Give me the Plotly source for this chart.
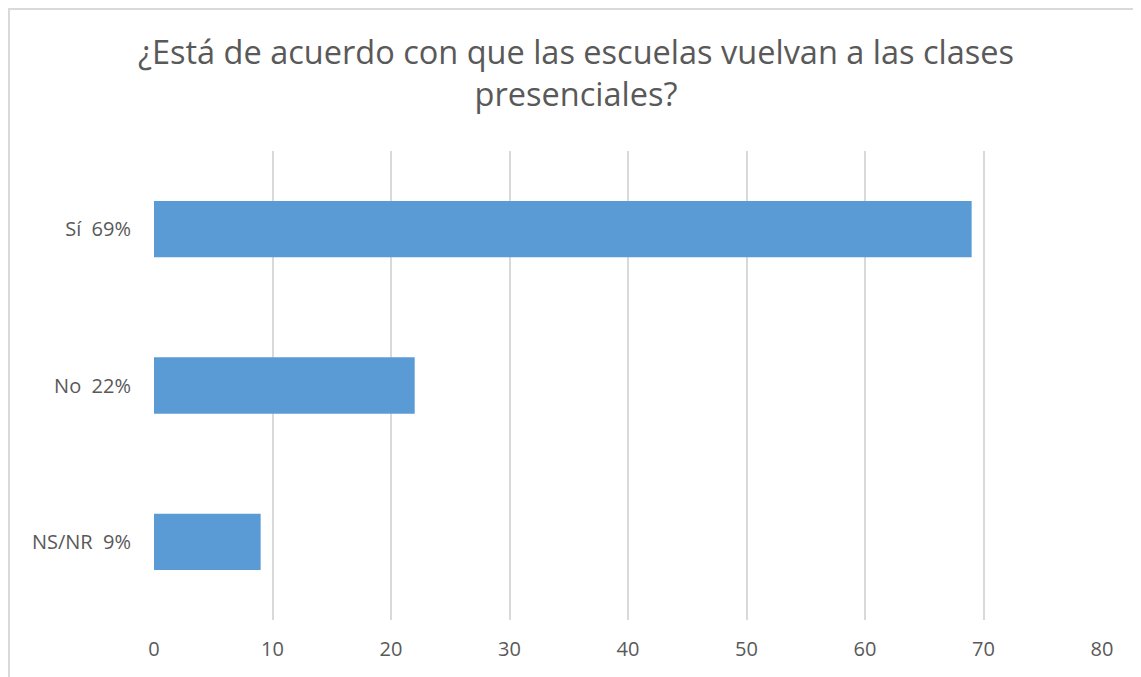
import plotly.graph_objects as go

categories = ["Sí  69%", "No  22%", "NS/NR  9%"]
values = [69, 22, 9]
x_ticks = [0, 10, 20, 30, 40, 50, 60, 70, 80]

# page body adds an 8px offset; compensate in margins
OFF = 8
W, H = 1141, 677
L, R, T, B = 154 - OFF, 39 + OFF, 151 - OFF, 57 + OFF
pw, ph = W - L - R, H - T - B

fig = go.Figure(go.Bar(
    y=categories, x=values, orientation="h",
    marker=dict(color="#5b9bd5", line=dict(width=0)),
    width=0.36,
))

fig.update_layout(
    width=W, height=H,
    margin=dict(l=L, r=R, t=T, b=B),
    paper_bgcolor="white", plot_bgcolor="white",
    font=dict(family="Open Sans, sans-serif", color="#595959"),
    title=dict(
        text="¿Está de acuerdo con que las escuelas vuelvan a las clases<br>presenciales?",
        x=(576 - OFF) / W, xref="container", xanchor="center",
        y=1 - 56 / H, yref="container", yanchor="top",
        font=dict(size=32.5, color="#595959"),
    ),
    xaxis=dict(
        range=[0, 80], tickvals=x_ticks, showgrid=True,
        gridcolor="#d9d9d9", gridwidth=2, zeroline=False,
        showline=False, ticks="", tickfont=dict(size=20, color="#595959"),
        ticklabelstandoff=15,
    ),
    yaxis=dict(
        autorange="reversed", showgrid=False, zeroline=False,
        showline=False, ticks="", tickfont=dict(size=20, color="#595959"),
        ticklabelstandoff=22,
    ),
    showlegend=False,
    bargap=0.64,
)

# outer chart frame
fig.add_shape(type="rect", xref="paper", yref="paper",
              x0=(1 - L) / pw, x1=(W + 5 - L) / pw,
              y0=(H - B - (H + 5)) / ph, y1=(H - B - 1) / ph,
              line=dict(color="#d9d9d9", width=2), fillcolor="rgba(0,0,0,0)",
              layer="below")

fig.write_html("out.html")
